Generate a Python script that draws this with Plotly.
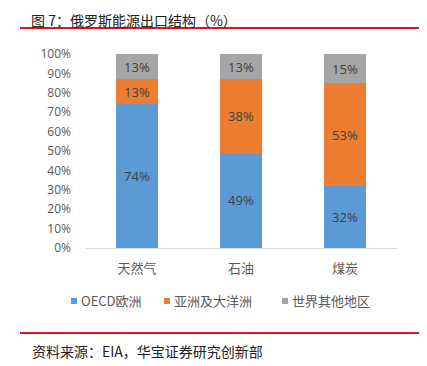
import plotly.graph_objects as go

categories = ["天然气", "石油", "煤炭"]
oecd_europe = [74, 49, 32]
asia_oceania = [13, 38, 53]
rest_world = [13, 13, 15]
series_names = ["OECD欧洲", "亚洲及大洋洲", "世界其他地区"]
colors = ["#5B9BD5", "#ED7D31", "#A5A5A5"]

fig = go.Figure()
for name, vals, c in zip(series_names, [oecd_europe, asia_oceania, rest_world], colors):
    fig.add_trace(go.Bar(
        x=categories, y=vals, name=name, marker_color=c,
        marker_line_width=0,
        text=[f"{v}%" for v in vals], textposition="inside", insidetextanchor="middle",
        textfont=dict(color="#404040", size=13, family="Open Sans, Noto Sans CJK SC"),
        hoverinfo="skip", showlegend=False,
    ))

# page body has an 8px margin, so the figure starts at (8, 8)
OFF = 8
W, H = 427 - OFF, 366 - OFF
# target pixel positions in the window
PL, PR, PT, PB = 85, 397, 54, 248
L, R, T, B = PL - OFF, 427 - PR, PT - OFF, 366 - PB
pw, ph = W - L - R, H - T - B

def px(x):
    return (x - PL) / pw

def py(y):
    return (PB - y) / ph

shapes = [
    dict(type="line", xref="paper", yref="paper", x0=px(20), x1=px(422), y0=py(28), y1=py(28),
         line=dict(color="#D7191C", width=2)),
    dict(type="line", xref="paper", yref="paper", x0=px(20), x1=px(422), y0=py(333), y1=py(333),
         line=dict(color="#D7191C", width=2)),
]
annotations = [
    dict(text="图 7：俄罗斯能源出口结构（%）", xref="paper", yref="paper", x=px(30), y=py(9),
         xanchor="left", yanchor="top", showarrow=False, borderpad=0,
         font=dict(size=14, color="#222222", family="Noto Sans CJK SC")),
    dict(text="资料来源：EIA，华宝证券研究创新部", xref="paper", yref="paper", x=px(30), y=py(351),
         xanchor="left", yanchor="middle", showarrow=False,
         font=dict(size=14, color="#222222", family="Noto Sans CJK SC")),
]

# legend (drawn as squares + text)
legend_x = [71, 164, 282]
for name, c, lx in zip(series_names, colors, legend_x):
    shapes.append(dict(type="rect", xref="paper", yref="paper",
                       x0=px(lx), x1=px(lx + 6), y0=py(298), y1=py(304),
                       fillcolor=c, line=dict(width=0)))
    annotations.append(dict(text=name, xref="paper", yref="paper", x=px(lx + 8), y=py(300),
                            xanchor="left", yanchor="middle", showarrow=False,
                            font=dict(size=13, color="#595959", family="Noto Sans CJK SC")))

fig.update_layout(
    barmode="stack", bargap=0.6,
    width=W, height=H,
    margin=dict(l=L, r=R, t=T, b=B, autoexpand=False),
    paper_bgcolor="white", plot_bgcolor="white",
    font=dict(family="Noto Sans CJK SC, Open Sans", color="#595959"),
    xaxis=dict(showline=True, linecolor="#D9D9D9", linewidth=1, ticks="",
               tickfont=dict(size=13, color="#595959"), fixedrange=True,
               ticklabelstandoff=8),
    yaxis=dict(range=[0, 100], dtick=10, ticksuffix="%", showgrid=False, zeroline=False,
               tickfont=dict(size=12, color="#595959", family="Open Sans, Noto Sans"),
               fixedrange=True, ticklabelstandoff=13),
    showlegend=False,
    shapes=shapes,
    annotations=annotations,
)

fig.write_html("out.html")
